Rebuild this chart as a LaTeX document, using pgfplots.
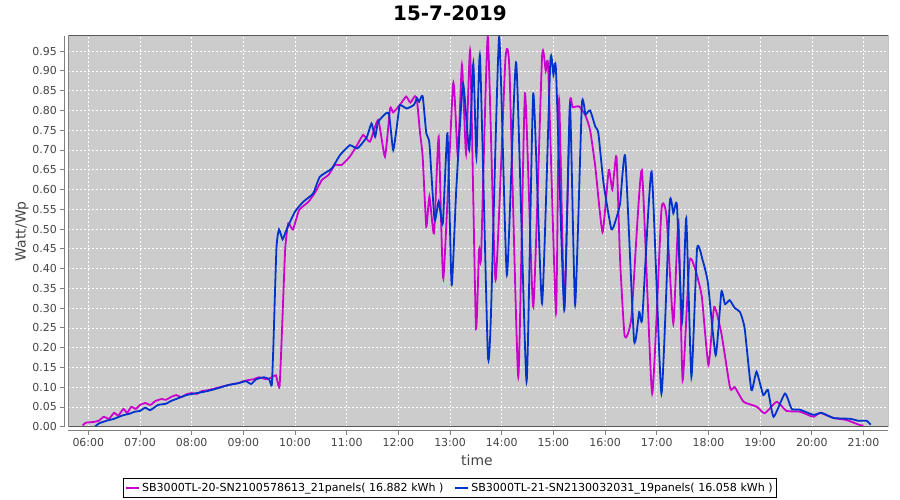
\documentclass[border=0pt]{standalone}
\usepackage{pgfplots}
\pgfplotsset{compat=1.18}
\usepackage{fontspec}
\setmainfont{DejaVu Sans}
\definecolor{plotbg}{RGB}{204,204,204}
\definecolor{s20}{RGB}{204,0,204}
\definecolor{s21}{RGB}{0,51,204}
\definecolor{ticktext}{RGB}{68,68,68}

\begin{document}
\begin{tikzpicture}
\begin{axis}[
  scale only axis, width=820bp, height=391bp,
  xmin=5.613, xmax=21.48, ymin=0, ymax=0.989,
  axis lines=left, axis line style={-, draw=gray, line width=1bp},
  axis x line shift=4bp, axis y line shift=4bp,
  axis background/.style={fill=plotbg},
  tick align=outside, major tick length=4bp, tick style={gray, line width=0.8bp},
  xtick={6,7,8,9,10,11,12,13,14,15,16,17,18,19,20,21},
  xticklabels={06:00,07:00,08:00,09:00,10:00,11:00,12:00,13:00,14:00,15:00,16:00,17:00,18:00,19:00,20:00,21:00},
  ytick={0,0.05,0.1,0.15,0.2,0.25,0.3,0.35,0.4,0.45,0.5,0.55,0.6,0.65,0.7,0.75,0.8,0.85,0.9,0.95},
  yticklabel style={/pgf/number format/.cd, fixed, fixed zerofill, precision=2},
  tick label style={font=\fontsize{11}{13}\selectfont, text=ticktext},
  /pgf/number format/assume math mode=true,
  grid=major, grid style={white, line width=0.6bp, dash pattern=on 2bp off 2bp},
  xlabel={time}, ylabel={Watt/Wp},
  xlabel style={at={(axis description cs:0.4984,-0.085)}, anchor=center, font=\fontsize{14}{16}\selectfont, text=ticktext},
  ylabel style={at={(axis description cs:-0.0565,0.5)}, anchor=center, font=\fontsize{14}{16}\selectfont, text=ticktext},
  legend columns=2,
  legend style={at={(0.4655,-0.1568)}, anchor=center, draw=black, line width=1bp,
    font=\fontsize{11.1}{13}\selectfont, inner xsep=1.5bp, inner ysep=2.5bp,
    /tikz/every even column/.append style={column sep=9bp}},
  legend image code/.code={\draw[#1] (0bp,0bp) -- (13bp,0bp);},
  every axis plot/.append style={smooth, tension=0.3, line width=1.8bp, no marks},
]
\addplot[s20] coordinates {
(5.89,0.003) (5.95,0.010) (6.10,0.012) (6.20,0.015) (6.30,0.025) (6.40,0.020)
(6.50,0.035) (6.58,0.028) (6.68,0.045) (6.75,0.035) (6.83,0.050) (6.92,0.045)
(7.00,0.055) (7.10,0.060) (7.20,0.055) (7.30,0.065) (7.42,0.070) (7.50,0.068)
(7.60,0.075) (7.70,0.080) (7.80,0.075) (7.90,0.082) (8.00,0.085) (8.10,0.083)
(8.20,0.090) (8.30,0.092) (8.40,0.095) (8.55,0.100) (8.70,0.105) (8.80,0.108)
(8.90,0.110) (9.00,0.115) (9.10,0.118) (9.20,0.120) (9.30,0.125) (9.45,0.120)
(9.55,0.125) (9.63,0.130) (9.70,0.101) (9.75,0.250) (9.81,0.450) (9.87,0.514)
(9.96,0.499) (10.08,0.548) (10.26,0.569) (10.40,0.595) (10.52,0.624) (10.65,0.637)
(10.77,0.662) (10.90,0.662) (11.06,0.683) (11.20,0.712) (11.32,0.738) (11.45,0.721)
(11.61,0.776) (11.74,0.683) (11.84,0.805) (11.90,0.795) (12.03,0.814) (12.15,0.835)
(12.23,0.820) (12.32,0.836) (12.36,0.826) (12.42,0.742) (12.47,0.683) (12.54,0.506)
(12.60,0.582) (12.69,0.489) (12.78,0.733) (12.87,0.375) (13.06,0.868) (13.15,0.683)
(13.23,0.915) (13.31,0.690) (13.39,0.948) (13.50,0.253) (13.56,0.447) (13.60,0.430)
(13.73,0.986) (13.88,0.371) (14.07,0.927) (14.15,0.900) (14.32,0.126) (14.45,0.843)
(14.61,0.303) (14.78,0.936) (14.85,0.900) (14.90,0.905) (15.05,0.287) (15.11,0.826)
(15.21,0.303) (15.32,0.814) (15.37,0.808) (15.50,0.810) (15.62,0.787) (15.71,0.750)
(15.81,0.658) (15.95,0.492) (16.07,0.649) (16.14,0.600) (16.22,0.683) (16.29,0.422)
(16.38,0.228) (16.51,0.278) (16.71,0.649) (16.91,0.084) (17.09,0.548) (17.19,0.530)
(17.32,0.261) (17.42,0.520) (17.50,0.118) (17.63,0.417) (17.74,0.400) (17.87,0.330)
(18.00,0.156) (18.11,0.303) (18.25,0.236) (18.42,0.097) (18.51,0.100) (18.68,0.063)
(18.93,0.051) (19.09,0.034) (19.32,0.063) (19.51,0.040) (19.77,0.038) (20.03,0.025)
(20.16,0.035) (20.42,0.022) (20.67,0.017) (20.93,0.004) (21.00,0.003)
};
\addlegendentry{SB3000TL-20-SN2100578613\_21panels( 16.882 kWh )}
\addplot[s21] coordinates {
(6.13,0.000) (6.20,0.008) (6.35,0.015) (6.50,0.020) (6.65,0.028) (6.80,0.033)
(6.90,0.038) (7.00,0.040) (7.10,0.048) (7.20,0.042) (7.35,0.055) (7.50,0.058)
(7.60,0.065) (7.70,0.070) (7.90,0.080) (8.10,0.085) (8.30,0.090) (8.50,0.097)
(8.70,0.105) (8.90,0.110) (9.05,0.115) (9.15,0.108) (9.25,0.120) (9.40,0.125)
(9.50,0.120) (9.55,0.105) (9.58,0.200) (9.64,0.450) (9.69,0.499) (9.76,0.474)
(9.84,0.500) (10.00,0.544) (10.16,0.569) (10.35,0.590) (10.48,0.632) (10.71,0.653)
(10.87,0.687) (11.06,0.712) (11.21,0.704) (11.39,0.733) (11.48,0.767) (11.55,0.733)
(11.61,0.771) (11.81,0.794) (11.90,0.700) (12.00,0.790) (12.03,0.814) (12.16,0.805)
(12.30,0.814) (12.36,0.831) (12.40,0.822) (12.47,0.836) (12.54,0.742) (12.60,0.717)
(12.70,0.523) (12.78,0.570) (12.86,0.514) (12.95,0.742) (13.03,0.358) (13.12,0.600)
(13.25,0.868) (13.37,0.700) (13.45,0.919) (13.51,0.683) (13.58,0.936) (13.73,0.186)
(13.79,0.278) (13.95,0.986) (14.10,0.384) (14.28,0.921) (14.48,0.114) (14.61,0.843)
(14.78,0.312) (14.94,0.923) (15.00,0.890) (15.05,0.900) (15.21,0.295) (15.32,0.814)
(15.42,0.308) (15.55,0.814) (15.62,0.790) (15.71,0.800) (15.81,0.759) (15.87,0.742)
(15.97,0.616) (16.12,0.500) (16.20,0.520) (16.29,0.565) (16.39,0.683) (16.56,0.219)
(16.66,0.290) (16.72,0.275) (16.90,0.645) (17.09,0.084) (17.25,0.565) (17.32,0.540)
(17.39,0.560) (17.49,0.266) (17.57,0.527) (17.67,0.126) (17.78,0.451) (17.89,0.420)
(17.99,0.363) (18.14,0.181) (18.25,0.341) (18.32,0.310) (18.41,0.320) (18.51,0.300)
(18.61,0.290) (18.70,0.249) (18.83,0.093) (18.93,0.139) (19.06,0.080) (19.15,0.093)
(19.26,0.025) (19.48,0.084) (19.61,0.045) (19.77,0.043) (20.03,0.030) (20.19,0.035)
(20.42,0.022) (20.74,0.020) (20.90,0.015) (21.06,0.015) (21.14,0.005)
};
\addlegendentry{SB3000TL-21-SN2130032031\_19panels( 16.058 kWh )}
\draw[gray!70!black, line width=1bp] (rel axis cs:0,0) rectangle (rel axis cs:1,1);
\coordinate (sw) at (rel axis cs:0,0);
\end{axis}
\node[font=\bfseries\fontsize{20}{23}\selectfont] at ([shift={(381.7bp,413.7bp)}]sw) {15-7-2019};
\pgfresetboundingbox
\path[use as bounding box] ([shift={(-68.3bp,-73.3bp)}]sw) rectangle ([shift={(831.7bp,426.7bp)}]sw);
\end{tikzpicture}
\end{document}
